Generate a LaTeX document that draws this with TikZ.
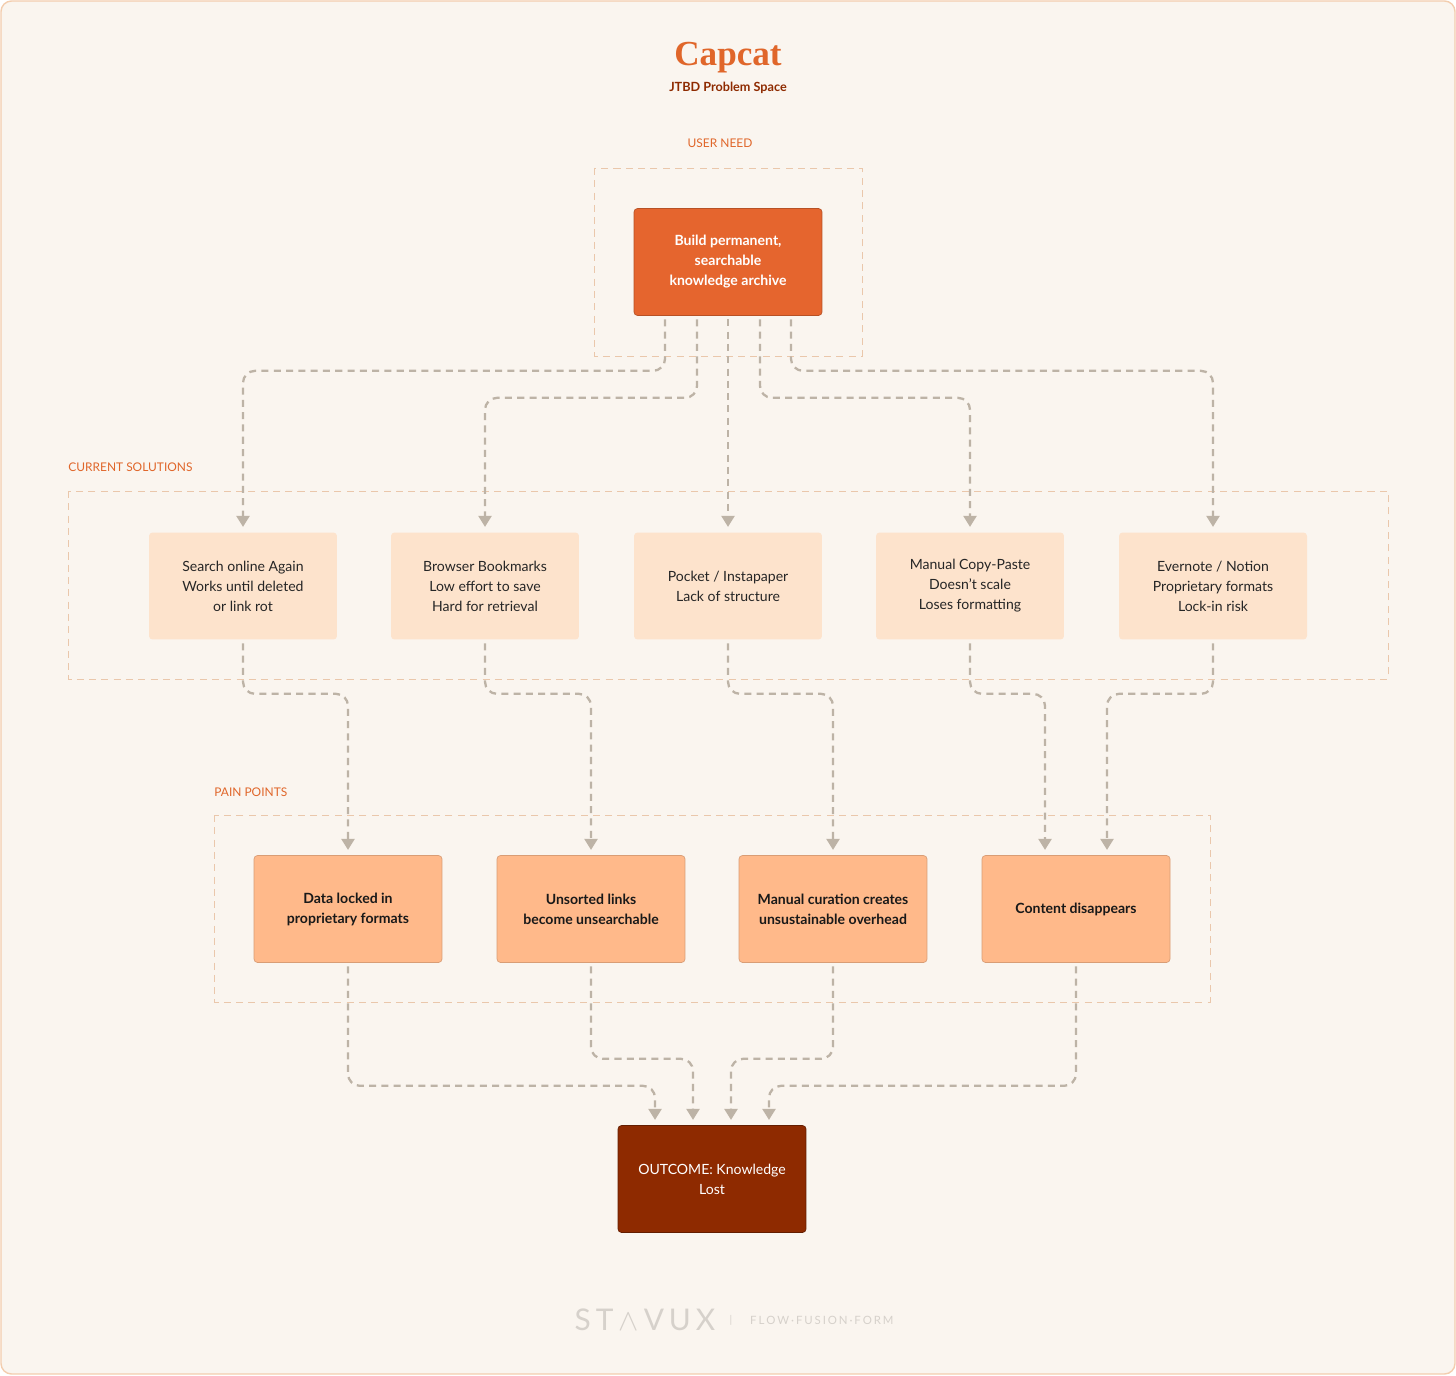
\documentclass[tikz,border=0pt]{standalone}
\usepackage{fontspec}
\setmainfont{Lato}
\newfontfamily\titlefont{Liberation Serif}
\usetikzlibrary{arrows.meta}
\definecolor{paper}{HTML}{FAF5EF}
\definecolor{frame}{HTML}{F3CDAE}
\definecolor{needfill}{HTML}{E5652E}
\definecolor{solfill}{HTML}{FDE3CC}
\definecolor{painfill}{HTML}{FFB98A}
\definecolor{outfill}{HTML}{8E2A00}
\definecolor{wire}{HTML}{BDB3A6}
\definecolor{tagorange}{HTML}{E0662A}
\definecolor{groupline}{HTML}{EAC7AB}
\definecolor{brand}{HTML}{D6D1CB}
\tikzset{
  box/.style={rectangle, rounded corners=2pt, minimum width=3.76cm, minimum height=2.14cm, align=center, font=\fontsize{8}{11.4}\selectfont, inner sep=0pt},
  need/.style={box, fill=needfill, draw=needfill!80!black, text=white, font=\fontsize{8}{11.4}\selectfont\bfseries},
  sol/.style={box, fill=solfill, text=black!85},
  pain/.style={box, fill=painfill, draw=painfill!85!black, text=black!90, font=\fontsize{8}{11.4}\selectfont\bfseries},
  outcome/.style={box, fill=outfill, draw=outfill!70!black, text=white},
  group/.style={draw=groupline, dashed, dash pattern=on 4pt off 3pt, line width=0.5pt},
  tag/.style={text=tagorange, font=\fontsize{6.8}{8}\selectfont, anchor=west, inner sep=0pt},
  flow/.style={draw=wire, line width=1.3pt, dash pattern=on 4pt off 3pt, rounded corners=0.24cm,
    -{Triangle[width=0.26cm,length=0.22cm]}, shorten <=2pt, shorten >=3pt}
}
\begin{document}
\begin{tikzpicture}[x=0.02cm, y=-0.02cm]
	\draw[fill=paper, draw=frame, rounded corners=6pt, line width=0.8pt] (1,1) rectangle (1455,1374);
	\useasboundingbox (0,0) rectangle (1456,1375);

	% title
	\draw (728,58) node[text=tagorange, font=\titlefont\fontsize{20}{22}\selectfont\bfseries] (title) {Capcat};
	\draw (728,88) node[text=outfill, font=\fontsize{7.2}{8}\selectfont\bfseries] (subtitle) {JTBD Problem Space};

	% groups
	\draw[group] (594,168) rectangle (862,356);
	\draw[group] (68,491) rectangle (1388,679);
	\draw[group] (214,815) rectangle (1210,1002);
	\draw (720,143) node[tag, anchor=center] (lneed) {USER NEED};
	\draw (68,467) node[tag] (lsol) {CURRENT SOLUTIONS};
	\draw (214,792) node[tag] (lpain) {PAIN POINTS};

	% nodes
	\draw (728,262) 	node[need] 	(top) 	{Build permanent,\\searchable\\knowledge archive};
	\draw (243,586) 	node[sol] 	(s1) 	{Search online Again\\Works until deleted\\or link rot};
	\draw (485,586) 	node[sol] 	(s2) 	{Browser Bookmarks\\Low effort to save\\Hard for retrieval};
	\draw (728,586) 	node[sol] 	(s3) 	{Pocket / Instapaper\\Lack of structure};
	\draw (970,586) 	node[sol] 	(s4) 	{Manual Copy-Paste\\Doesn't scale\\Loses formatting};
	\draw (1213,586) 	node[sol] 	(s5) 	{Evernote / Notion\\Proprietary formats\\Lock-in risk};
	\draw (348,909) 	node[pain] 	(p1) 	{Data locked in\\proprietary formats};
	\draw (591,909) 	node[pain] 	(p2) 	{Unsorted links\\become unsearchable};
	\draw (833,909) 	node[pain] 	(p3) 	{Manual curation creates\\unsustainable overhead};
	\draw (1076,909) 	node[pain] 	(p4) 	{Content disappears};
	\draw (712,1179) 	node[outcome] 	(out) 	{OUTCOME: Knowledge\\Lost};

	% need -> solutions
	\draw[flow] ([xshift=-1.26cm]top.south) -- ++(0,55) -| (s1.north);
	\draw[flow] ([xshift=-0.62cm]top.south) -- ++(0,82) -| (s2.north);
	\draw[flow] (top.south) -- (s3.north);
	\draw[flow] ([xshift=0.64cm]top.south) -- ++(0,82) -| (s4.north);
	\draw[flow] ([xshift=1.26cm]top.south) -- ++(0,55) -| (s5.north);

	% solutions -> pain points
	\draw[flow] (s1.south) -- ++(0,54) -| (p1.north);
	\draw[flow] (s2.south) -- ++(0,54) -| (p2.north);
	\draw[flow] (s3.south) -- ++(0,54) -| (p3.north);
	\draw[flow] (s4.south) -- ++(0,54) -| ([xshift=-0.62cm]p4.north);
	\draw[flow] (s5.south) -- ++(0,54) -| ([xshift=0.62cm]p4.north);

	% pain points -> outcome
	\draw[flow] (p1.south) -- ++(0,123) -| ([xshift=-1.14cm]out.north);
	\draw[flow] (p2.south) -- ++(0,96) -| ([xshift=-0.38cm]out.north);
	\draw[flow] (p3.south) -- ++(0,96) -| ([xshift=0.38cm]out.north);
	\draw[flow] (p4.south) -- ++(0,123) -| ([xshift=1.14cm]out.north);

	% footer
	\draw (645,1320) node[text=brand, font=\fontsize{17}{18}\selectfont] (brand) {S\,T\,\raisebox{0pt}{$\wedge$}\,V\,U\,X};
	\draw (731,1320) node[text=brand, font=\fontsize{6}{7}\selectfont] (bar) {|};
	\draw (744,1320) node[text=brand, font=\fontsize{6.5}{7}\selectfont, anchor=west] (motto) {F\,L\,O\,W\,·\,F\,U\,S\,I\,O\,N\,·\,F\,O\,R\,M};
\end{tikzpicture}
\end{document}
